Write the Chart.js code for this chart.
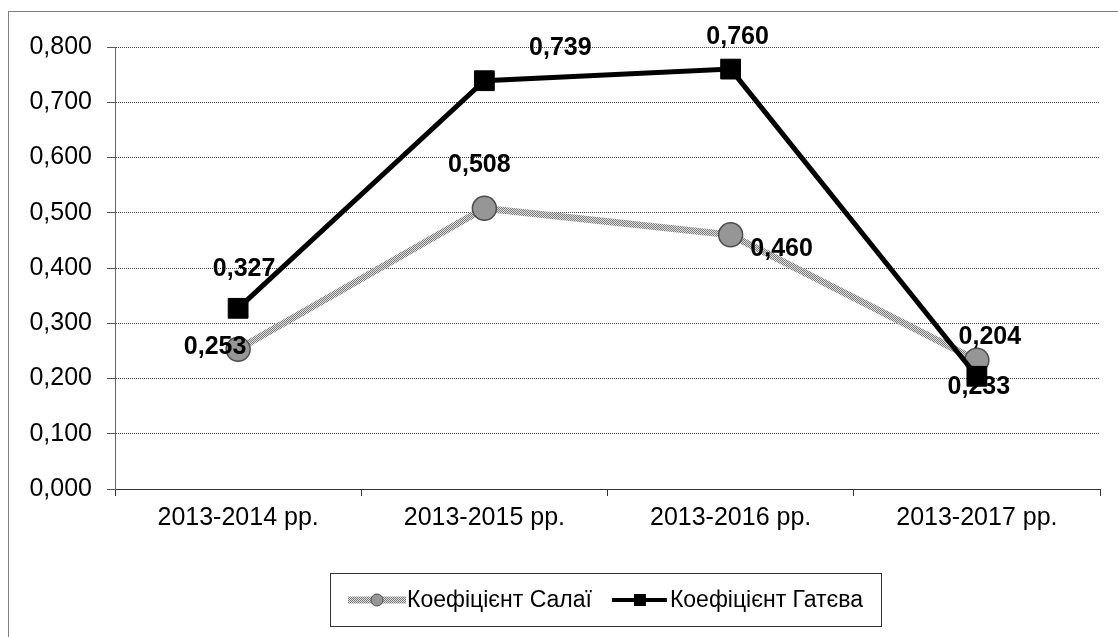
<!DOCTYPE html>
<html>
<head>
<meta charset="utf-8">
<script src="https://cdn.jsdelivr.net/npm/chart.js@4.4.1/dist/chart.umd.min.js"></script>
<style>
  html, body { margin: 0; padding: 0; background: #fff; }
  canvas { display: block; }
</style>
</head>
<body>
<canvas id="koefChart" width="1118" height="637"></canvas>
<script>
var periods = ["2013-2014 рр.", "2013-2015 рр.", "2013-2016 рр.", "2013-2017 рр."];
var salaiValues = [0.253, 0.508, 0.460, 0.233];
var gatevaValues = [0.327, 0.739, 0.760, 0.204];
var yMin = 0;
var yMax = 0.8;
var yStep = 0.1;
var salaiName = "Коефіцієнт Салаї";
var gatevaName = "Коефіцієнт Гатєва";

// where each value label sits relative to its marker, px
var salaiLabelOffsets = [[-23, -3], [-5, -44], [51, 13], [2, 26]];
var gatevaLabelOffsets = [[6, -40], [76, -34], [7, -33], [13, -40]];

Chart.defaults.font.family = "'Liberation Sans', Arial, sans-serif";
Chart.defaults.color = "#000";

function fmt(v) {
  return Number(v).toFixed(3).replace(".", ",");
}

var ctx = document.getElementById("koefChart").getContext("2d");

// fine grey checker used for the Salai line
var tile = document.createElement("canvas");
tile.width = 2;
tile.height = 2;
var tctx = tile.getContext("2d");
tctx.fillStyle = "#dcdcdc";
tctx.fillRect(0, 0, 2, 2);
tctx.fillStyle = "#7c7c7c";
tctx.fillRect(0, 0, 1, 1);
tctx.fillRect(1, 1, 1, 1);
var hatch = ctx.createPattern(tile, "repeat");

var frame = {
  id: "frame",
  beforeDraw: function (chart) {
    var c = chart.ctx;
    c.save();
    c.fillStyle = "#fff";
    c.fillRect(0, 0, chart.width, chart.height);
    c.strokeStyle = "#7f7f7f";
    c.lineWidth = 1;
    c.strokeRect(8.5, 11.5, chart.width + 10, chart.height + 10);
    c.restore();
  },
};

var valueLabels = {
  id: "valueLabels",
  afterDatasetsDraw: function (chart) {
    var c = chart.ctx;
    c.save();
    c.font = "bold 25px 'Liberation Sans', Arial, sans-serif";
    c.fillStyle = "#000";
    c.textAlign = "center";
    c.textBaseline = "middle";
    chart.data.datasets.forEach(function (ds, i) {
      var meta = chart.getDatasetMeta(i);
      meta.data.forEach(function (pt, j) {
        var off = ds.labelOffsets[j];
        c.fillText(fmt(ds.data[j]), pt.x + off[0], pt.y + off[1] + 1);
      });
    });
    c.restore();
  },
};

var boxLegend = {
  id: "boxLegend",
  afterDraw: function (chart) {
    var c = chart.ctx;
    var cy = 600;
    c.save();
    c.strokeStyle = "#333";
    c.lineWidth = 1;
    c.strokeRect(330.5, 573.5, 551, 53);

    c.font = "23px 'Liberation Sans', Arial, sans-serif";
    c.textBaseline = "middle";
    c.fillStyle = "#000";

    // Salai item
    c.strokeStyle = hatch;
    c.lineWidth = 7;
    c.beginPath();
    c.moveTo(348, cy);
    c.lineTo(406, cy);
    c.stroke();
    c.beginPath();
    c.arc(377, cy, 6, 0, Math.PI * 2);
    c.fillStyle = "#969696";
    c.fill();
    c.strokeStyle = "#4d4d4d";
    c.lineWidth = 1;
    c.stroke();
    c.fillStyle = "#000";
    c.fillText(salaiName, 407, cy + 1);

    // Gateva item
    var s2 = 407 + c.measureText(salaiName).width + 20;
    c.strokeStyle = "#000";
    c.lineWidth = 4;
    c.beginPath();
    c.moveTo(s2, cy);
    c.lineTo(s2 + 55, cy);
    c.stroke();
    c.fillRect(s2 + 22, cy - 6, 12, 12);
    c.fillText(gatevaName, s2 + 58, cy + 1);
    c.restore();
  },
};

var koefChart = new Chart(ctx, {
  type: "line",
  data: {
    labels: periods,
    datasets: [
      {
        label: salaiName,
        data: salaiValues,
        labelOffsets: salaiLabelOffsets,
        borderColor: hatch,
        borderWidth: 7,
        pointStyle: "circle",
        pointRadius: 12,
        pointBackgroundColor: "#969696",
        pointBorderColor: "#4d4d4d",
        pointBorderWidth: 1.5,
        tension: 0,
        fill: false,
        order: 2,
      },
      {
        label: gatevaName,
        data: gatevaValues,
        labelOffsets: gatevaLabelOffsets,
        borderColor: "#000",
        borderWidth: 5,
        pointStyle: "rect",
        pointRadius: 14,
        pointBackgroundColor: "#000",
        pointBorderColor: "#000",
        pointBorderWidth: 1,
        tension: 0,
        fill: false,
        order: 1,
      },
    ],
  },
  options: {
    responsive: false,
    animation: false,
    events: [],
    layout: { padding: { top: 47, right: 18, left: 0, bottom: 0 } },
    plugins: {
      legend: { display: false },
      tooltip: { enabled: false },
    },
    scales: {
      x: {
        offset: true,
        grid: {
          offset: true,
          drawOnChartArea: false,
          tickLength: 7,
          tickColor: "#333",
          tickWidth: 1,
        },
        border: { color: "#333", width: 1 },
        ticks: {
          color: "#000",
          padding: 7,
          font: { size: 25 },
          maxRotation: 0,
          autoSkip: false,
        },
        afterFit: function (s) {
          s.height = 148;
        },
      },
      y: {
        min: yMin,
        max: yMax,
        ticks: {
          stepSize: yStep,
          color: "#000",
          padding: 15,
          font: { size: 25 },
          callback: function (v) {
            return fmt(v);
          },
        },
        grid: {
          color: "#444",
          lineWidth: 1,
          tickLength: 8,
          tickColor: "#555",
          tickBorderDash: [],
        },
        border: { color: "#666", width: 1, dash: [1, 1] },
        afterFit: function (s) {
          s.width = 115;
        },
      },
    },
  },
  plugins: [frame, valueLabels, boxLegend],
});
</script>
</body>
</html>
